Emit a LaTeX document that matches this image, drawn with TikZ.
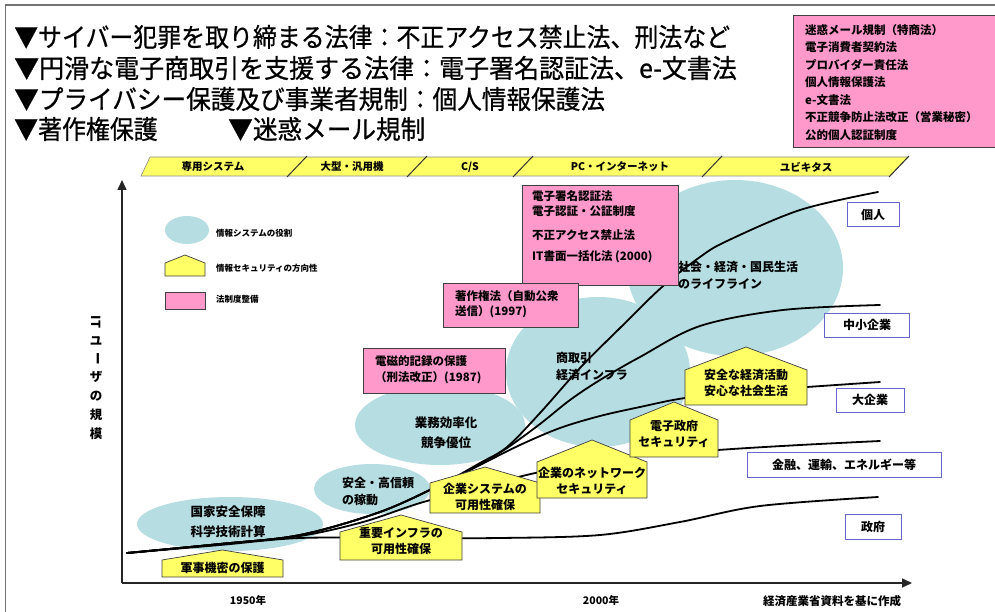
\documentclass[tikz,border=0pt]{standalone}
\usepackage{fontspec}
\usepackage{graphicx}
\setmainfont{Noto Sans CJK JP}
\newfontfamily\headfont{Noto Sans CJK JP}[FakeStretch=0.92, FakeBold=0.6]
\usetikzlibrary{arrows.meta}
\definecolor{blobc}{HTML}{B6DEE2}
\definecolor{yelc}{HTML}{FFFF66}
\definecolor{pinkc}{HTML}{FF99CC}
\definecolor{frc}{HTML}{6666CC}
\newcommand\jsz[2]{\fontsize{#1}{#2}\selectfont}
% house: name, x1, x2, peak y, shoulder y, bottom y, text y, text
\newcommand\hse[8]{%
  \path[house] (#2,#6) -- (#2,#5) -- ({(#2+#3)/2},#4) -- (#3,#5) -- (#3,#6) -- cycle;
  \node[txt] (#1) at ({(#2+#3)/2},#7) {#8};}
\begin{document}
\begin{tikzpicture}[x=1pt,y=-1pt,
  blob/.style={fill=blobc},
  house/.style={fill=yelc, draw=black!75, line width=0.7pt},
  lawbox/.style={fill=pinkc, draw=black!75, line width=0.8pt, inner sep=0},
  actorbox/.style={draw=frc, fill=white, line width=1pt, inner sep=0, font=\bfseries\jsz{12}{14}},
  growth/.style={line width=1.8pt, line cap=round},
  txt/.style={inner sep=0, align=center, font=\bfseries\jsz{12}{16}},
  ltxt/.style={inner sep=0, align=left, anchor=west, font=\bfseries\jsz{12}{17}},
  head/.style={inner sep=0, anchor=west, font=\headfont\jsz{26}{28}},
  era/.style={inner sep=0, font=\bfseries\jsz{10.5}{12}},
  axis/.style={line width=1.6pt, black!85},
  ych/.style={inner sep=0, font=\bfseries\jsz{12.5}{14}},
]
\useasboundingbox (0,0) rectangle (995,612);
\fill[white] (0,0) rectangle (995,612);
% frame
\draw[line width=2.5pt, black!55] (5,5) -- (995,5);
\draw[line width=1pt, black!55] (5,5) -- (5,612);

% headline text
\node[head] (t1) at (14,37) {▼サイバー犯罪を取り締まる法律：不正アクセス禁止法、刑法など};
\node[head] (t2) at (14,68) {\scalebox{1.045}[1]{▼円滑な電子商取引を支援する法律：電子署名認証法、e-文書法}};
\node[head] (t3) at (14,99) {\scalebox{1.03}[1]{▼プライバシー保護及び事業者規制：個人情報保護法}};
\node[head] (t4) at (14,129) {▼著作権保護};
\node[head] (t5) at (228,129) {\scalebox{1.03}[1]{▼迷惑メール規制}};

% top-right law box
\node[lawbox, anchor=north west, minimum width=215pt, minimum height=132pt] (tr) at (793,15) {};
\node[inner sep=0, align=left, anchor=north west, font=\bfseries\jsz{11.5}{17.5}] (trt) at (805,24)
  {迷惑メール規制（特商法）\\電子消費者契約法\\プロバイダー責任法\\個人情報保護法\\e-文書法\\不正競争防止法改正（営業秘密）\\公的個人認証制度};

% era bar
\path[fill=yelc, draw=black!45, line width=0.6pt] (141,176) -- (150,157) -- (908,157) -- (890,176) -- cycle;
\foreach \xa in {287,407,513,702}
  \draw[line width=1pt, black!80] (\xa,177) -- (\xa+20,156);
\draw[line width=1pt, black!80] (889,177) -- (909,156);
\node[era] (e1) at (213,167) {専用システム};
\node[era] (e2) at (352,167) {大型・汎用機};
\node[era] (e3) at (470,167) {C/S};
\node[era] (e4) at (620,167) {PC・インターネット};
\node[era] (e5) at (806,167) {ユビキタス};

% blobs
\fill[blob] (230,524) ellipse [x radius=93pt, y radius=27pt];
\fill[blob] (372,489) ellipse [x radius=58pt, y radius=25pt];
\fill[blob] (440,425) ellipse [x radius=85pt, y radius=40pt];
\fill[blob] (598,372) ellipse [x radius=92pt, y radius=75pt];
\fill[blob] (735,268) ellipse [x radius=108pt, y radius=88pt];

\node[txt, font=\bfseries\jsz{12.5}{20}] (bA) at (228,522) {国家安全保障\\科学技術計算};
\node[ltxt] (bB) at (342,491) {安全・高信頼\\の稼動};
\node[txt, font=\bfseries\jsz{12.5}{20}] (bC) at (446,433) {業務効率化\\競争優位};
\node[ltxt] (bD) at (556,367) {商取引\\経済インフラ};
\node[ltxt] (bE) at (678,275) {社会・経済・国民生活\\のライフライン};

% axes
\draw[axis, -{Triangle[length=10pt,width=9pt]}] (122,583) -- (122,180);
\draw[axis, -{Triangle[length=10pt,width=9pt]}] (122,583) -- (912,583);

% legend
\fill[blob] (187,230) ellipse [x radius=22pt, y radius=14pt];
\node[ltxt, font=\bfseries\jsz{8.5}{10}] (lg1) at (216,233) {情報システムの役割};
\path[house] (165,276) -- (165,263) -- (185,255) -- (205,263) -- (205,276) -- cycle;
\node[ltxt, font=\bfseries\jsz{8.5}{10}] (lg2) at (216,268) {情報セキュリティの方向性};
\node[lawbox, minimum width=40pt, minimum height=17pt] (lg3box) at (185,301) {};
\node[ltxt, font=\bfseries\jsz{8.5}{10}] (lg3) at (216,299) {法制度整備};

% growth curves
\draw[growth] plot[smooth, tension=0.55] coordinates {(127,553) (220,545) (300,538) (400,538) (500,538) (600,535) (680,522) (760,506) (878,497)};
\draw[growth] plot[smooth, tension=0.55] coordinates {(127,553) (220,544) (300,536) (363,522) (420,503) (480,487) (540,472) (620,458) (718,450) (800,445) (880,441)};
\draw[growth] plot[smooth, tension=0.55] coordinates {(127,553) (220,544) (300,535) (380,512) (440,485) (480,465) (520,445) (560,428) (600,416) (640,407) (685,398) (750,391) (807,387) (880,382)};
\draw[growth] plot[smooth, tension=0.55] coordinates {(127,553) (220,544) (300,535) (380,512) (440,485) (480,464) (507,448) (540,424) (570,400) (600,380) (640,357) (700,326) (783,310) (880,305)};
\draw[growth] plot[smooth, tension=0.55] coordinates {(127,553) (220,544) (300,535) (380,512) (440,485) (480,463) (507,447) (540,413) (580,368) (620,328) (662,287) (700,257) (727,241) (800,210) (878,192)};

% houses (security direction)
\hse{h1}{162}{283}{550}{560}{577}{568}{軍事機密の保護}
\hse{h2}{340}{462}{515}{532}{560}{541}{重要インフラの\\可用性確保}
\hse{h3}{430}{540}{467}{483}{513}{497}{企業システムの\\可用性確保}
\hse{h4}{537}{647}{440}{462}{498}{481}{企業のネットワーク\\セキュリティ}
\hse{h5}{630}{718}{402}{420}{457}{434}{電子政府\\セキュリティ}
\hse{h6}{685}{807}{347}{370}{405}{383}{安全な経済活動\\安心な社会生活}

% law boxes
\node[lawbox, anchor=north west, minimum width=156pt, minimum height=100pt] (p1) at (522,185) {};
\node[inner sep=0, align=left, anchor=north west, font=\bfseries\jsz{11.5}{15.5}] (p1t) at (532,190)
  {電子署名認証法\\電子認証・公証制度\\[8pt]不正アクセス禁止法\\[6pt]IT書面一括化法 (2000)};
\node[lawbox, anchor=north west, minimum width=135pt, minimum height=44pt] (p2) at (443,283) {};
\node[inner sep=0, align=left, anchor=north west, font=\bfseries\jsz{11.5}{15.5}] (p2t) at (455,290)
  {著作権法（自動公衆\\送信）(1997)};
\node[lawbox, anchor=north west, minimum width=142pt, minimum height=45pt] (p3) at (363,348) {};
\node[inner sep=0, align=left, anchor=north west, font=\bfseries\jsz{11.5}{16}] (p3t) at (375,355)
  {電磁的記録の保護\\（刑法改正）(1987)};

% actor labels
\node[actorbox, minimum width=52pt, minimum height=24pt] (a1) at (873,215) {個人};
\node[actorbox, minimum width=85pt, minimum height=24pt] (a2) at (867,325) {中小企業};
\node[actorbox, minimum width=68pt, minimum height=24pt] (a3) at (870,400) {大企業};
\node[actorbox, minimum width=194pt, minimum height=25pt] (a4) at (844,465) {金融、運輸、エネルギー等};
\node[actorbox, minimum width=56pt, minimum height=25pt] (a5) at (873,527) {政府};

% bottom
\node[era] (y1950) at (248,600) {1950年};
\node[era] (y2000) at (601,600) {2000年};
\node[era, font=\bfseries\jsz{11.5}{12}] (src) at (832,601) {経済産業省資料を基に作成};

% y-axis label (vertical writing)
\node[ych, rotate=-90] (yl1) at (96,322) {IT};
\node[ych] (yl2) at (96,341) {ユ};
\node[ych, rotate=-90] (yl3) at (96,359) {ー};
\node[ych] (yl4) at (96,377) {ザ};
\node[ych] (yl5) at (96,396) {の};
\node[ych] (yl6) at (96,415) {規};
\node[ych] (yl7) at (96,434) {模};
\end{tikzpicture}
\end{document}
